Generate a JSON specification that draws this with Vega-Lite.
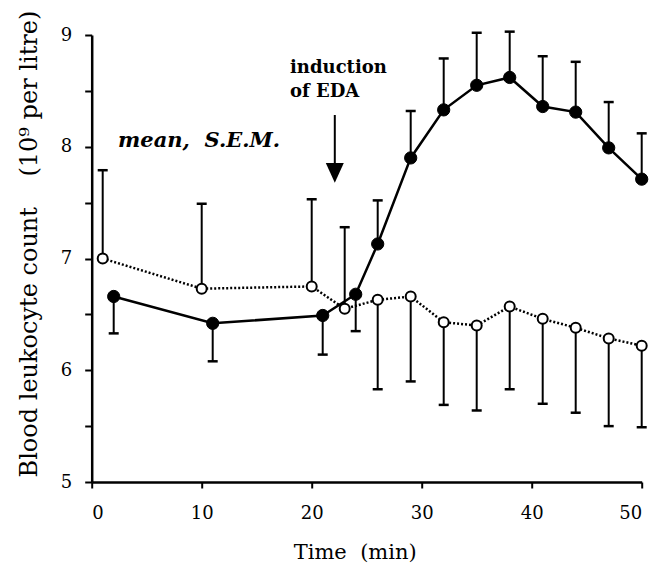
{
  "$schema": "https://vega.github.io/schema/vega-lite/v6.json",
  "width": 550,
  "height": 447,
  "autosize": {"type": "none"},
  "padding": {"left": 91.7, "top": 35, "right": 13.3, "bottom": 81},
  "background": "white",
  "config": {"view": {"stroke": null}},
  "datasets": {
    "d": [
      {"series": "filled", "t": 2, "v": 6.66, "e": 6.33},
      {"series": "filled", "t": 11, "v": 6.42, "e": 6.08},
      {"series": "filled", "t": 21, "v": 6.49, "e": 6.14},
      {"series": "filled", "t": 24, "v": 6.68, "e": 6.35},
      {"series": "filled", "t": 26, "v": 7.13, "e": 7.52},
      {"series": "filled", "t": 29, "v": 7.9, "e": 8.32},
      {"series": "filled", "t": 32, "v": 8.33, "e": 8.79},
      {"series": "filled", "t": 35, "v": 8.55, "e": 9.02},
      {"series": "filled", "t": 38, "v": 8.62, "e": 9.03},
      {"series": "filled", "t": 41, "v": 8.36, "e": 8.81},
      {"series": "filled", "t": 44, "v": 8.31, "e": 8.76},
      {"series": "filled", "t": 47, "v": 7.99, "e": 8.4},
      {"series": "filled", "t": 50, "v": 7.71, "e": 8.12},
      {"series": "open", "t": 1, "v": 7.0, "e": 7.79},
      {"series": "open", "t": 10, "v": 6.73, "e": 7.49},
      {"series": "open", "t": 20, "v": 6.75, "e": 7.53},
      {"series": "open", "t": 23, "v": 6.55, "e": 7.28},
      {"series": "open", "t": 26, "v": 6.63, "e": 5.83},
      {"series": "open", "t": 29, "v": 6.66, "e": 5.9},
      {"series": "open", "t": 32, "v": 6.43, "e": 5.69},
      {"series": "open", "t": 35, "v": 6.4, "e": 5.64},
      {"series": "open", "t": 38, "v": 6.57, "e": 5.83},
      {"series": "open", "t": 41, "v": 6.46, "e": 5.7},
      {"series": "open", "t": 44, "v": 6.38, "e": 5.62},
      {"series": "open", "t": 47, "v": 6.285, "e": 5.5},
      {"series": "open", "t": 50, "v": 6.22, "e": 5.49}
    ]
  },
  "encoding": {
    "x": {
      "field": "t",
      "type": "quantitative",
      "scale": {"domain": [0, 50], "nice": false, "zero": false},
      "axis": {
        "values": [0, 10, 20, 30, 40, 50],
        "grid": false,
        "domainColor": "black",
        "domainWidth": 2.5,
        "tickColor": "black",
        "tickWidth": 2,
        "tickSize": 6,
        "labelFont": "DejaVu Serif",
        "labelFontSize": 18,
        "labelColor": "black",
        "labelPadding": 16,
        "title": "Time\u00a0\u00a0(min)",
        "titleFont": "DejaVu Serif",
        "titleFontSize": 21,
        "titleFontWeight": "normal",
        "titleColor": "black",
        "titleBaseline": "alphabetic",
        "titleX": 263,
        "titleY": 76
      }
    },
    "y": {
      "field": "v",
      "type": "quantitative",
      "scale": {"domain": [5, 9], "nice": false, "zero": false},
      "axis": {
        "tickCount": 8,
        "labelOverlap": false,
        "labelExpr": "datum.value % 1 === 0 ? format(datum.value, 'd') : ''",
        "grid": false,
        "domainColor": "black",
        "domainWidth": 2.5,
        "tickColor": "black",
        "tickWidth": 2,
        "tickSize": 7,
        "labelFont": "DejaVu Serif",
        "labelFontSize": 18,
        "labelColor": "black",
        "labelPadding": 13,
        "title": "Blood leukocyte count\u00a0\u00a0\u00a0\u00a0(10⁹ per litre)",
        "titleFont": "DejaVu Serif",
        "titleFontSize": 24,
        "titleFontWeight": "normal",
        "titleColor": "black",
        "titleAngle": -90,
        "titleAlign": "left",
        "titleBaseline": "middle",
        "titleX": -62,
        "titleY": 442
      }
    }
  },
  "layer": [
    {
      "data": {"name": "d"},
      "mark": {"type": "rule", "color": "black", "strokeWidth": 2},
      "encoding": {"y2": {"field": "e"}}
    },
    {
      "data": {"name": "d"},
      "mark": {"type": "tick", "orient": "horizontal", "color": "black", "size": 10, "thickness": 2.5, "opacity": 1},
      "encoding": {
        "y": {
          "field": "e",
          "type": "quantitative",
          "scale": {"domain": [5, 9], "nice": false, "zero": false},
          "axis": {
            "tickCount": 8,
            "labelOverlap": false,
            "labelExpr": "datum.value % 1 === 0 ? format(datum.value, 'd') : ''",
            "grid": false,
            "domainColor": "black",
            "domainWidth": 2.5,
            "tickColor": "black",
            "tickWidth": 2,
            "tickSize": 7,
            "labelFont": "DejaVu Serif",
            "labelFontSize": 18,
            "labelColor": "black",
            "labelPadding": 13,
            "title": "Blood leukocyte count\u00a0\u00a0\u00a0\u00a0(10⁹ per litre)",
            "titleFont": "DejaVu Serif",
            "titleFontSize": 24,
            "titleFontWeight": "normal",
            "titleColor": "black",
            "titleAngle": -90,
            "titleAlign": "left",
            "titleBaseline": "middle",
            "titleX": -62,
            "titleY": 442
          }
        }
      }
    },
    {
      "data": {"name": "d"},
      "transform": [{"filter": "datum.series === 'open'"}],
      "mark": {"type": "line", "color": "black", "strokeWidth": 2.5, "strokeDash": [2, 2]},
      "encoding": {}
    },
    {
      "data": {"name": "d"},
      "transform": [{"filter": "datum.series === 'filled'"}],
      "mark": {"type": "line", "color": "black", "strokeWidth": 2.5},
      "encoding": {}
    },
    {
      "data": {"name": "d"},
      "transform": [{"filter": "datum.series === 'open'"}],
      "mark": {"type": "point", "shape": "circle", "filled": true, "fill": "white", "stroke": "black", "strokeWidth": 2, "size": 100, "opacity": 1},
      "encoding": {}
    },
    {
      "data": {"name": "d"},
      "transform": [{"filter": "datum.series === 'filled'"}],
      "mark": {"type": "point", "shape": "circle", "filled": true, "fill": "black", "stroke": "black", "strokeWidth": 1, "size": 150, "opacity": 1},
      "encoding": {}
    },
    {
      "data": {"values": [{"t": 22.1, "v": 8.284, "v2": 7.84}]},
      "mark": {"type": "rule", "color": "black", "strokeWidth": 2},
      "encoding": {"y2": {"field": "v2"}}
    },
    {
      "data": {"values": [{"t": 22.1, "v": 7.766}]},
      "mark": {"type": "point", "shape": "M-1,-1.1L1,-1.1L0,1.1Z", "filled": true, "fill": "black", "strokeWidth": 0, "size": 324, "opacity": 1},
      "encoding": {}
    },
    {
      "data": {"values": [{"t": 2.4, "v": 8.0, "label": "mean,\u00a0\u00a0S.E.M."}]},
      "mark": {"type": "text", "align": "left", "baseline": "alphabetic", "font": "DejaVu Serif", "fontSize": 21, "fontStyle": "italic", "fontWeight": "bold", "color": "black"},
      "encoding": {"text": {"field": "label"}}
    },
    {
      "data": {"values": [{"t": 18.03, "v": 8.657, "label": "induction"}, {"t": 18.03, "v": 8.448, "label": "of EDA"}]},
      "mark": {"type": "text", "align": "left", "baseline": "alphabetic", "font": "DejaVu Serif", "fontSize": 18, "fontWeight": "bold", "color": "black"},
      "encoding": {"text": {"field": "label"}}
    }
  ]
}
